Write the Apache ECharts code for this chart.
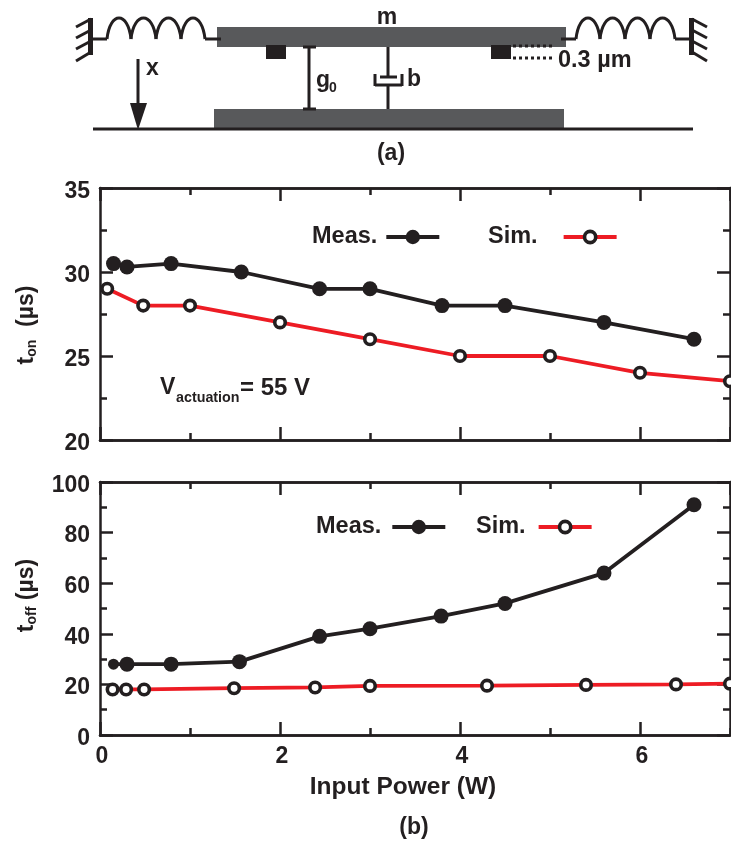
<!DOCTYPE html>
<html>
<head>
<meta charset="utf-8">
<style>html,body{margin:0;padding:0;background:#fff}#c{width:731px;height:844px}</style>
<script src="https://cdn.jsdelivr.net/npm/echarts@6/dist/echarts.min.js"></script>
</head>
<body>
<div id="c"></div>
<script>
var tonMeasX = [0.15, 0.3, 0.79, 1.57, 2.44, 3.0, 3.8, 4.5, 5.6, 6.6];
var tonMeasY = [30.5, 30.3, 30.5, 30, 29, 29, 28, 28, 27, 26];
var tonSimX = [0.08, 0.48, 1, 2, 3, 4, 5, 6, 7];
var tonSimY = [29, 28, 28, 27, 26, 25, 25, 24, 23.5];
var toffMeasX = [0.15, 0.3, 0.79, 1.55, 2.44, 3.0, 3.79, 4.5, 5.6, 6.6];
var toffMeasY = [28, 28, 28, 29, 39, 42, 47, 52, 64, 91];
var toffSimX = [0.14, 0.29, 0.49, 1.49, 2.39, 3.0, 4.3, 5.4, 6.4, 7];
var toffSimY = [18, 18, 18, 18.5, 18.8, 19.4, 19.5, 19.8, 20, 20.3];

var BLACK = '#231f20', RED = '#ed1c24', GREY = '#58595b';
var FONT = '"Liberation Sans", Arial, sans-serif';

function pts(xs, ys, firstSize) {
  return xs.map(function (x, i) {
    var d = { value: [x, ys[i]] };
    if (i === 0 && firstSize) d.symbolSize = firstSize;
    return d;
  });
}
function lineSeries(name, xs, ys, axis, firstSize) {
  var sim = name === 'Sim.';
  return {
    name: name, type: 'line', xAxisIndex: axis * 4, yAxisIndex: axis * 2,
    data: pts(xs, ys, firstSize), symbol: 'circle', symbolSize: sim ? 10.5 : 15,
    showAllSymbol: true, clip: true, z: sim ? 3 : 4,
    lineStyle: { color: sim ? RED : BLACK, width: 3.8 },
    itemStyle: sim ? { color: '#fff', borderColor: BLACK, borderWidth: 3.6, opacity: 1 }
                   : { color: BLACK, borderWidth: 0, opacity: 1 }
  };
}
var line = { show: true, onZero: false, lineStyle: { color: BLACK, width: 2.5 } };
function xAxis(grid, pos, interval, len, labelled) {
  return {
    type: 'value', gridIndex: grid, position: pos, min: 0, max: 7, interval: interval,
    axisLine: line, splitLine: { show: false },
    axisTick: { show: true, inside: true, length: len, lineStyle: { color: BLACK, width: 2.5 } },
    axisLabel: { show: labelled, showMaxLabel: false, margin: 10, padding: [0, 0, 0, 4], color: BLACK, fontFamily: FONT, fontWeight: 'bold', fontSize: 23 },
    name: labelled && grid === 1 ? 'Input Power (W)' : '',
    nameLocation: 'middle', nameGap: 40,
    nameTextStyle: { color: BLACK, fontFamily: FONT, fontWeight: 'bold', fontSize: 24.5, padding: [0, 24, 0, 0] }
  };
}
function yAxis(grid, pos, min, max, interval, labelled, name, pad) {
  return {
    type: 'value', gridIndex: grid, position: pos, min: min, max: max, interval: interval,
    axisLine: line, splitLine: { show: false },
    axisTick: { show: true, inside: true, length: 13, lineStyle: { color: BLACK, width: 2.5 } },
    minorTick: { show: true, splitNumber: 2, length: 7, lineStyle: { color: BLACK, width: 2.5 } },
    minorSplitLine: { show: false },
    axisLabel: { show: labelled, margin: 10, verticalAlign: 'top', lineHeight: 7, color: BLACK, fontFamily: FONT, fontWeight: 'bold', fontSize: 23 },
    name: name || '', nameLocation: 'middle', nameGap: 61, nameRotate: 90,
    nameTextStyle: {
      color: BLACK, fontFamily: FONT, fontWeight: 'bold', fontSize: 23, padding: pad,
      rich: {
        m: { fontFamily: FONT, fontWeight: 'bold', fontSize: 23, color: BLACK },
        s: { fontFamily: FONT, fontWeight: 'bold', fontSize: 14, color: BLACK, verticalAlign: 'bottom', padding: [10, 0, 0, 0] }
      }
    }
  };
}
function legend(name, left, top, gapRight, lift, iconH) {
  var sim = name === 'Sim.';
  return {
    data: [name], left: left, top: top, orient: 'horizontal', padding: 0, align: 'right',
    itemWidth: 53, itemHeight: iconH, selectedMode: false,
    lineStyle: { width: 3.8 },
    itemStyle: sim ? { color: '#fff', borderColor: BLACK, borderWidth: 3.6 } : { color: BLACK, borderWidth: 0 },
    textStyle: { color: BLACK, fontFamily: FONT, fontWeight: 'bold', fontSize: 23.5, padding: [0, gapRight, lift, 0] }
  };
}
var T = function (x, y, text, size, align) {
  return { type: 'text', x: x, y: y + 2, silent: true, style: {
    text: text, fill: BLACK, font: 'bold ' + size + 'px ' + FONT, align: align || 'left', verticalAlign: 'middle' } };
};
var L = function (x1, y1, x2, y2, w, dash) {
  return { type: 'line', silent: true, shape: { x1: x1, y1: y1, x2: x2, y2: y2 },
    style: { stroke: BLACK, lineWidth: w || 3, lineDash: dash || null, fill: null } };
};
var R = function (x, y, w, h, c) {
  return { type: 'rect', silent: true, shape: { x: x, y: y, width: w, height: h }, style: { fill: c } };
};
function spring(cusps, y, ctrl) {
  var out = [];
  for (var i = 1; i < cusps.length; i++) {
    var a = cusps[i - 1], b = cusps[i];
    out.push({ type: 'bezierCurve', silent: true,
      shape: { x1: a, y1: y, x2: b, y2: y, cpx1: a + 3, cpy1: ctrl, cpx2: b - 3, cpy2: ctrl },
      style: { stroke: BLACK, lineWidth: 3, fill: null } });
  }
  return out;
}
var schematic = [
  R(217, 27, 349, 20, GREY), R(214, 109, 350, 19.5, GREY),
  L(93, 129, 693, 129),
  R(266, 45, 20, 14, BLACK), R(491, 45, 20, 14, BLACK),
  L(513, 46, 552, 46, 3, [3, 3]), L(513, 58, 552, 58, 3, [3, 3]),
  // left anchor and spring
  R(88, 18, 5, 37, BLACK),
  L(91, 19, 76, 27), L(91, 30, 76, 38), L(91, 41, 76, 49), L(91, 52, 76, 61),
  L(91, 39, 107, 39), L(205, 39, 221, 39),
  // right anchor and spring
  R(689, 18, 5, 37, BLACK),
  L(692, 19, 707, 27), L(692, 30, 707, 38), L(692, 41, 707, 49), L(692, 52, 707, 61),
  L(561, 39, 576, 39), L(675, 39, 691, 39),
  // gap marker
  L(309, 47, 309, 109), L(303, 47, 316, 47), L(303, 109, 316, 109),
  // damper
  L(388, 47, 388, 77), L(380, 77, 397, 77), L(375, 85, 402, 85), L(375, 74, 375, 86), L(402, 74, 402, 86), L(388, 85, 388, 109),
  // arrow
  L(138, 59, 138, 106),
  { type: 'polygon', silent: true, shape: { points: [[130, 103], [147, 103], [138, 130]] }, style: { fill: BLACK } },
  T(146, 67, 'x', 23), T(387, 16, 'm', 23, 'center'),
  T(316, 79, 'g', 23), T(329, 86, '0', 14), T(407, 78, 'b', 23),
  T(558, 59, '0.3 µm', 23.5), T(391, 152, '(a)', 23, 'center'), T(414, 826, '(b)', 23, 'center'),
  T(160, 386, 'V', 23), T(176, 396, 'actuation', 14.3), T(240, 386, '= 55 V', 24)
].concat(spring([107, 131, 156, 181, 205], 39, 11), spring([576, 600, 625, 650, 675], 39, 11));

var chart = echarts.init(document.getElementById('c'), null, { renderer: 'canvas' });
chart.setOption({
  animation: false,
  backgroundColor: '#fff',
  grid: [
    { left: 100, top: 188, width: 630, height: 252 },
    { left: 100, top: 482, width: 630, height: 253 }
  ],
  xAxis: [
    xAxis(0, 'bottom', 2, 13, false), xAxis(0, 'bottom', 1, 7, false), xAxis(0, 'top', 2, 13, false), xAxis(0, 'top', 1, 7, false),
    xAxis(1, 'bottom', 2, 13, true), xAxis(1, 'bottom', 1, 7, false), xAxis(1, 'top', 2, 13, false), xAxis(1, 'top', 1, 7, false)
  ],
  yAxis: [
    yAxis(0, 'left', 20, 35, 5, true, '{m|t}{s|on}{m|  (µs)}', [0, 22, 0, 0]), yAxis(0, 'right', 20, 35, 5, false),
    yAxis(1, 'left', 0, 100, 20, true, '{m|t}{s|off}{m| (µs)}', [0, 0, 0, 26]), yAxis(1, 'right', 0, 100, 20, false)
  ],
  legend: [
    legend('Meas.', 312, 225, 4, 15, 18), legend('Sim.', 488, 225, 21, 16, 14),
    legend('Meas.', 316, 515, 6, 11, 18), legend('Sim.', 476, 515, 8, 12, 14)
  ],
  series: [
    lineSeries('Meas.', tonMeasX, tonMeasY, 0),
    lineSeries('Sim.', tonSimX, tonSimY, 0),
    lineSeries('Meas.', toffMeasX, toffMeasY, 1, 11),
    lineSeries('Sim.', toffSimX, toffSimY, 1)
  ],
  graphic: { elements: schematic }
});
</script>
</body>
</html>
